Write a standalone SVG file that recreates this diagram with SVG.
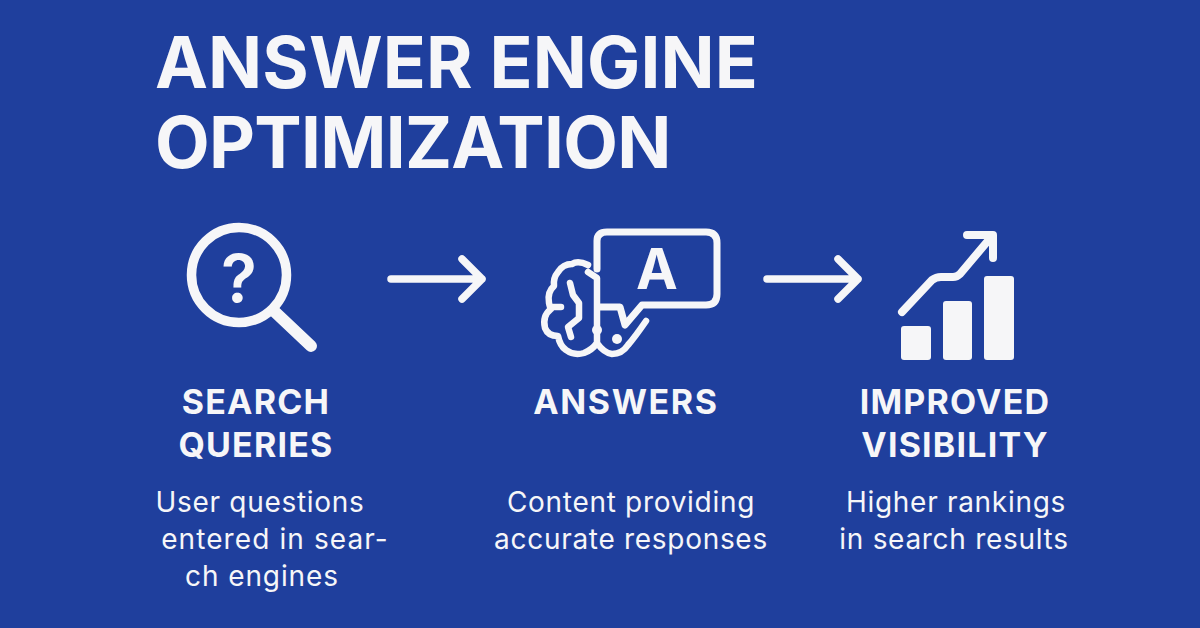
<svg xmlns="http://www.w3.org/2000/svg" width="1200" height="628" viewBox="0 0 1200 628">
<style>
text{font-family:Inter,"Liberation Sans",sans-serif;fill:#f6f6f8;text-anchor:middle}
.t{font-size:71px;font-weight:750;text-anchor:start}
.h{font-size:34px;font-weight:700;letter-spacing:1.2px}
.b{font-size:28px;font-weight:400;letter-spacing:.7px}
.ln{fill:none;stroke:#f6f6f8;stroke-linecap:round;stroke-linejoin:round}
.fl{fill:#f6f6f8}
</style>
<defs>
<g id="arrow"><path class="ln" stroke-width="7.5" d="M0 0H91M71-20L91 0L71 20"/></g>
</defs>
<rect width="1200" height="628" fill="#1f3f9d"/>
<g id="title">
<text class="t" x="155" y="88" style="letter-spacing:.1px">ANSWER ENGINE</text>
<text class="t" x="155" y="168" style="letter-spacing:-.7px">OPTIMIZATION</text>
</g>
<g id="connectors">
<use href="#arrow" x="391" y="279"/>
<use href="#arrow" x="767" y="279"/>
</g>
<g id="search-queries">
<circle class="ln" cx="239" cy="275" r="47.5" stroke-width="9.5"/>
<path class="ln" stroke-width="12" d="M275 312L311 346"/>
<text x="239" y="302" style="font-size:66px;font-weight:600">?</text>
<text class="h" x="256" y="414">SEARCH</text>
<text class="h" x="256" y="457">QUERIES</text>
<text class="b" x="260" y="512">User questions</text>
<text class="b" x="275" y="549" style="letter-spacing:1.1px">entered in sear-</text>
<text class="b" x="262" y="586" style="letter-spacing:.9px">ch engines</text>
</g>
<g id="answers">
<path class="ln" stroke-width="7" d="M597 269V241Q597 232 607 232H706Q717 232 717 243V294Q717 305 706 305H642L625 325L620 307H600"/>
<text x="657" y="289" style="font-size:56px;font-weight:700">A</text>
<path class="ln" stroke-width="6.5" d="M588 265Q578 260 572 264Q563 264 558 272Q553 278 554 286Q547 292 549 303Q550 308 551 309Q542 316 545 328Q548 336 558 336Q560 346 566 350Q574 356 584 353Q592 350 597 343Q604 353 612 354Q622 354 628 345Q635 337 646 321M588 272L597 278V343M550 307H561"/>
<path class="ln" stroke-width="6.5" d="M570 283L573 295L579 303V318L568 327L571 337"/>
<circle class="fl" cx="597" cy="330" r="5"/>
<circle class="fl" cx="617" cy="339" r="5"/>
<text class="h" x="626" y="414" style="letter-spacing:1.6px">ANSWERS</text>
<text class="b" x="631" y="512">Content providing</text>
<text class="b" x="631" y="549">accurate responses</text>
</g>
<g id="improved-visibility">
<path class="ln" stroke-width="8" d="M902 312L932 280Q936 277 941 277H953Q957 277 960 274L992 236M967 235H993V258"/>
<rect class="fl" x="901" y="326" width="30" height="34" rx="3"/>
<rect class="fl" x="943" y="301" width="29" height="59" rx="3"/>
<rect class="fl" x="984" y="276" width="30" height="84" rx="3"/>
<text class="h" x="955" y="414">IMPROVED</text>
<text class="h" x="955" y="457">VISIBILITY</text>
<text class="b" x="956" y="512">Higher rankings</text>
<text class="b" x="954" y="549">in search results</text>
</g>
</svg>
